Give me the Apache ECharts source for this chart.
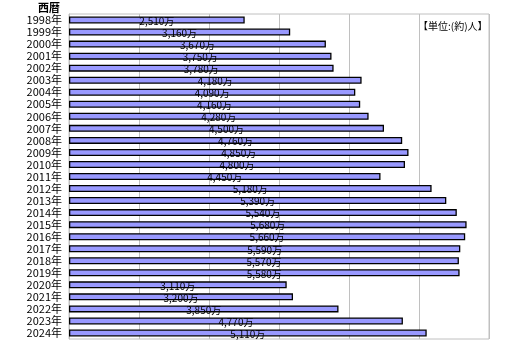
<!DOCTYPE html>
<html><head><meta charset="utf-8">
<script src="https://cdn.jsdelivr.net/npm/echarts@6/dist/echarts.min.js"></script>
<style>html,body{margin:0;padding:0;background:#fff}#c{width:517px;height:349px}</style>
</head><body><div id="c"></div>
<script>
const years = ['1998年','1999年','2000年','2001年','2002年','2003年','2004年','2005年','2006年','2007年','2008年','2009年','2010年','2011年','2012年','2013年','2014年','2015年','2016年','2017年','2018年','2019年','2020年','2021年','2022年','2023年','2024年'];
const visitors = [2510,3160,3670,3750,3780,4180,4090,4160,4280,4500,4760,4850,4800,4450,5180,5390,5540,5680,5660,5590,5570,5580,3110,3200,3850,4770,5110];
const axisMax = 6000;
const axisStep = 1000;
const titleText = '西暦';
const unitText = '【単位:(約)人】';
const FONT = '"Noto Sans CJK JP", sans-serif';
const chart = echarts.init(document.getElementById('c'), null, {renderer:'canvas'});
chart.setOption({
  animation:false,
  backgroundColor:'#fff',
  graphic:[
    {type:'text', left:38, top:2, style:{text:titleText, font:'bold 11px '+FONT, fill:'#000'}},
    {type:'text', left:418, top:21, style:{text:unitText, font:'10px '+FONT, fill:'#000'}}
  ],
  grid:{left:69, top:14, width:420, height:325, show:true, borderColor:'#c0c0c0', borderWidth:1},
  xAxis:{type:'value', min:0, max:axisMax, interval:axisStep,
    axisLabel:{show:false}, axisLine:{show:false}, axisTick:{show:false},
    splitLine:{show:true, lineStyle:{color:'#c0c0c0', width:1}}},
  yAxis:{type:'category', data:years, inverse:true,
    axisLine:{show:true, lineStyle:{color:'#c0c0c0'}}, axisTick:{show:false},
    axisLabel:{interval:0, color:'#000', fontSize:11, fontFamily:FONT, margin:7}},
  series:[{type:'bar', data:visitors, barWidth:7,
    itemStyle:{color:'#9999ff', borderColor:'#000', borderWidth:1.3},
    label:{show:true, position:'inside', offset:[0,1], color:'#000', fontSize:10, fontFamily:FONT,
      formatter:p=>p.value.toLocaleString('en-US')+'万'}}]
});
</script></body></html>
